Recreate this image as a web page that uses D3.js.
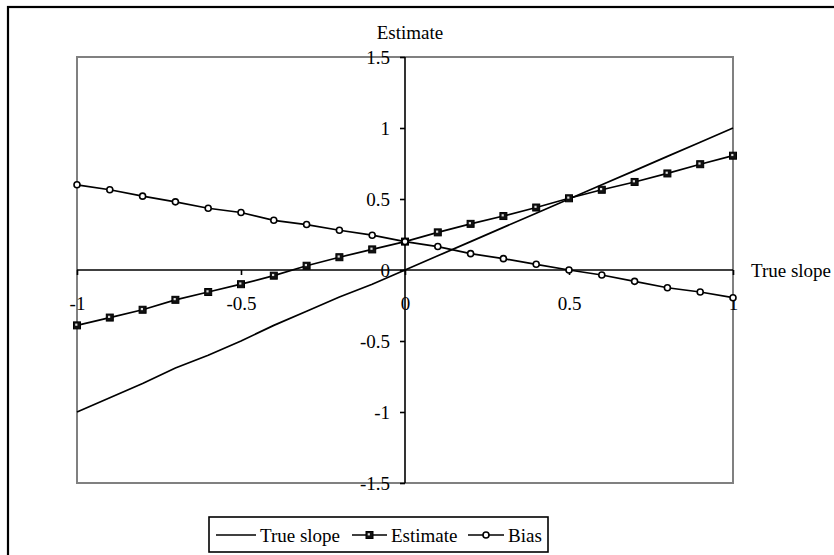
<!DOCTYPE html>
<html><head><meta charset="utf-8">
<script src="https://cdn.jsdelivr.net/npm/d3@7"></script>
<style>body{margin:0;background:#fff;} text{font-family:"Liberation Serif","Times New Roman",serif;}</style>
</head><body>
<svg id="c" width="834" height="555"></svg>
<script>
const slopes = [-1,-0.9,-0.8,-0.7,-0.6,-0.5,-0.4,-0.3,-0.2,-0.1,0,0.1,0.2,0.3,0.4,0.5,0.6,0.7,0.8,0.9,1];
const trueSlope = [-1,-0.9,-0.8,-0.69,-0.6,-0.5,-0.39,-0.29,-0.19,-0.1,0,0.1,0.2,0.3,0.4,0.5,0.6,0.7,0.8,0.9,1];
const estimate = [-0.39,-0.335,-0.28,-0.21,-0.155,-0.1,-0.04,0.03,0.09,0.145,0.2,0.265,0.325,0.38,0.44,0.505,0.565,0.62,0.68,0.745,0.805];
const bias = [0.6,0.565,0.52,0.48,0.435,0.405,0.35,0.32,0.28,0.245,0.2,0.165,0.115,0.08,0.04,0.0,-0.035,-0.08,-0.125,-0.155,-0.195];
const xTicks = [-1,-0.5,0,0.5,1];
const yTicks = [-1.5,-1,-0.5,0,0.5,1,1.5];
const seriesNames = ["True slope","Estimate","Bias"];

const svg = d3.select("#c");
svg.append("rect").attr("x",8).attr("y",7).attr("width",850).attr("height",570)
  .attr("fill","none").attr("stroke","#000").attr("stroke-width",2.2);

const L=77,R=733,T=57,B=483;
const x = d3.scaleLinear().domain([-1,1]).range([L,R]);
const y = d3.scaleLinear().domain([-1.5,1.5]).range([B,T]);

svg.append("rect").attr("x",L).attr("y",T).attr("width",R-L).attr("height",B-T)
  .attr("fill","none").attr("stroke","#808080").attr("stroke-width",2);

const ya = svg.append("g").attr("transform",`translate(${x(0)},0)`)
  .call(d3.axisLeft(y).tickValues(yTicks).tickSize(5).tickPadding(10).tickFormat(d=>String(d)));
const xa = svg.append("g").attr("transform",`translate(0,${y(0)})`)
  .call(d3.axisBottom(x).tickValues(xTicks).tickSize(5).tickPadding(22).tickFormat(d=>String(d)));
[ya,xa].forEach(g=>{
  g.attr("font-family",null).attr("font-size",null);
  g.select(".domain").attr("stroke","#000").attr("stroke-width",1.6);
  g.selectAll(".tick line").attr("stroke","#000").attr("stroke-width",1.6);
  g.selectAll(".tick text").attr("fill","#000").style("font-size","19px");
});
xa.select(".domain").attr("d",`M${L},0H${R}`);
ya.select(".domain").attr("d",`M0,${T}V${B}`);

svg.append("text").attr("x",410).attr("y",39).attr("text-anchor","middle")
  .style("font-size","19px").text("Estimate");
svg.append("text").attr("x",R+18).attr("y",y(0)+7)
  .style("font-size","19px").text("True slope");

const line = d3.line().x(d=>x(d[0])).y(d=>y(d[1]));
const dTrue = slopes.map((s,i)=>[s,trueSlope[i]]);
const dEst = slopes.map((s,i)=>[s,estimate[i]]);
const dBias = slopes.map((s,i)=>[s,bias[i]]);
[dTrue,dEst,dBias].forEach(d=>{
  svg.append("path").datum(d).attr("d",line).attr("fill","none").attr("stroke","#000").attr("stroke-width",1.7);
});
function sq(g,cx,cy){
  g.append("rect").attr("x",cx-3.5).attr("y",cy-3.5).attr("width",7).attr("height",7)
    .attr("fill","#111").attr("stroke","#000").attr("stroke-width",1);
  g.append("rect").attr("x",cx-1.8).attr("y",cy-1.8).attr("width",2.2).attr("height",2.2).attr("fill","#ddd");
}
function ci(g,cx,cy){
  g.append("circle").attr("cx",cx).attr("cy",cy).attr("r",3).attr("fill","#fff").attr("stroke","#000").attr("stroke-width",1.6);
}
const mk = svg.append("g");
dEst.forEach(d=>sq(mk,x(d[0]),y(d[1])));
dBias.forEach(d=>ci(mk,x(d[0]),y(d[1])));

// legend
const lg = svg.append("g");
lg.append("rect").attr("x",209).attr("y",517).attr("width",339).attr("height",35)
  .attr("fill","#fff").attr("stroke","#000").attr("stroke-width",1.6);
const items=[{n:seriesNames[0],x1:216,x2:256,m:null},{n:seriesNames[1],x1:352,x2:387,m:sq},{n:seriesNames[2],x1:468,x2:504,m:ci}];
items.forEach(it=>{
  lg.append("line").attr("x1",it.x1).attr("x2",it.x2).attr("y1",535).attr("y2",535).attr("stroke","#000").attr("stroke-width",1.6);
  if(it.m) it.m(lg,(it.x1+it.x2)/2,535);
  lg.append("text").attr("x",it.x2+4).attr("y",542).style("font-size","19px").text(it.n);
});
</script>
</body></html>
